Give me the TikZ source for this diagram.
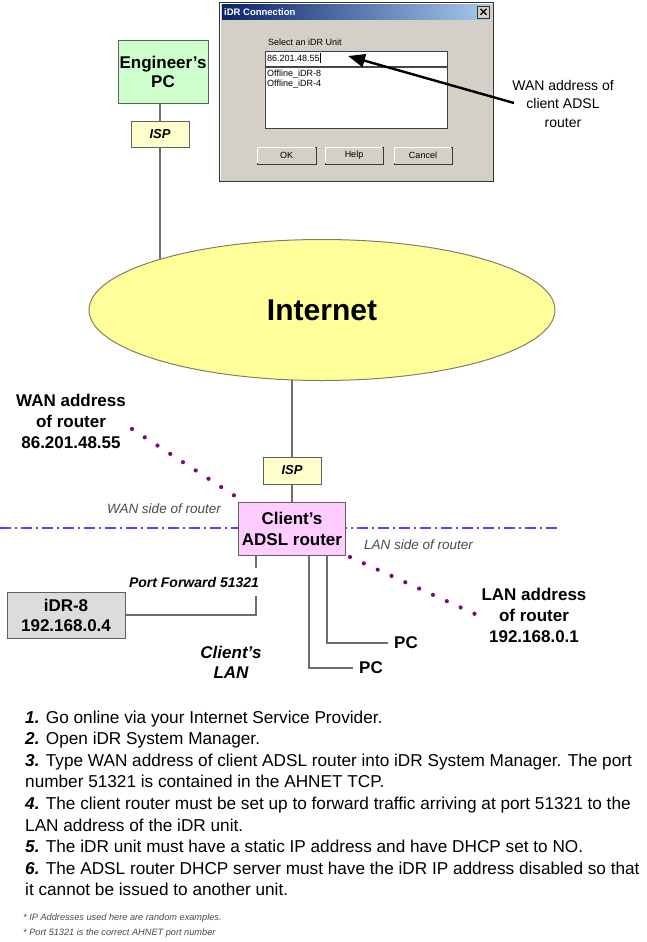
\documentclass[tikz,border=0pt]{standalone}
\usepackage{fontspec}
\setmainfont{Liberation Sans}
\usetikzlibrary{arrows.meta,shapes.geometric,calc}
\pgfdeclarelayer{bg}
\pgfdeclarelayer{paper}
\pgfsetlayers{paper,bg,main}
\definecolor{pcgreen}{HTML}{CCFFCC}
\definecolor{ispyellow}{HTML}{FFFFCC}
\definecolor{inetyellow}{HTML}{FFFF99}
\definecolor{routerpink}{HTML}{FFCCFF}
\definecolor{idrgray}{HTML}{DCDCDC}
\definecolor{boxborder}{HTML}{606060}
\definecolor{linegray}{HTML}{6E6E6E}
\definecolor{ellborder}{HTML}{808060}
\definecolor{dotpurple}{HTML}{7A0A7A}
\definecolor{dashblue}{HTML}{4D4DFF}
\definecolor{textgray}{HTML}{4A4A4A}
\definecolor{dlggray}{HTML}{D4D0C8}
\definecolor{titledark}{HTML}{0A246A}
\definecolor{titlelight}{HTML}{A6CAF0}
\newcommand{\fsz}[2]{\fontsize{#1}{#2}\selectfont}
\begin{document}
\begin{tikzpicture}[x=1pt,y=-1pt,
  conn/.style={draw=linegray,line width=1.2pt},
  netbox/.style={draw=boxborder,line width=0.9pt,align=center,inner sep=0pt},
  dotline/.style={draw=dotpurple,line width=4.2pt,line cap=round,dash pattern=on 0pt off 15.2pt},
  lbl/.style={align=center,inner sep=0pt,font=\bfseries\fsz{17}{21}},
  sidelbl/.style={inner sep=0pt,text=textgray,font=\itshape\fsz{13.5}{16}},
  steptext/.style={anchor=base west,inner sep=0pt,font=\fsz{17.2}{20}},
  foot/.style={anchor=base west,inner sep=0pt,text=textgray,font=\itshape\fsz{9.2}{12}},
  dlgtext/.style={anchor=west,inner sep=0pt,font=\fsz{9}{11}},
  winbtn/.style={draw=gray!45!black,fill=dlggray,line width=0.8pt,minimum height=17pt,inner sep=0pt,font=\fsz{9}{11}}
]
\useasboundingbox (0,0) rectangle (646,942);
\begin{pgfonlayer}{paper}
\fill[white] (0,0) rectangle (646,942);
\end{pgfonlayer}

% ---------------- dialog window ----------------
\draw[fill=dlggray,draw=gray!40!black,line width=0.8pt] (219,2) rectangle (493,181);
\draw[white,line width=0.8pt] (220.5,180) -- (220.5,3.5) -- (492,3.5);
\shade[left color=titledark,right color=titlelight] (222,4.5) rectangle (490,20);
\node[dlgtext,text=white,font=\bfseries\fsz{9.5}{11}] (title) at (224,12.3) {iDR Connection};
\node[draw=gray!40!black,fill=dlggray,minimum width=12pt,minimum height=12pt,inner sep=0pt] (close) at (483.5,11.8) {};
\draw[line width=1.3pt] ($(close.center)+(-3,-3)$) -- ($(close.center)+(3,3)$);
\draw[line width=1.3pt] ($(close.center)+(-3,3)$) -- ($(close.center)+(3,-3)$);
\node[dlgtext] (selectlbl) at (268,42) {Select an iDR Unit};
\node[draw=gray!50!black,fill=white,minimum width=182pt,minimum height=15pt,inner sep=0pt] (edit) at (356,58.5) {};
\node[dlgtext] (edittext) at (267,58.5) {86.201.48.55};
\draw[line width=0.6pt] (edittext.east) ++(0.8,-5) -- ++(0,10);
\node[draw=gray!50!black,fill=white,minimum width=182pt,minimum height=61pt,inner sep=0pt] (list) at (356,97.5) {};
\draw[gray!60!black,line width=1pt] (list.south west) ++(0.5,0) |- ($(list.north east)+(0,0.5)$);
\node[dlgtext] (item1) at (267,74) {Offline\_iDR-8};
\node[dlgtext] (item2) at (267,84) {Offline\_iDR-4};
\node[winbtn,minimum width=59pt] (okb) at (286.5,155.5) {OK};
\node[winbtn,minimum width=58pt] (helpb) at (354,155.5) {Help};
\node[winbtn,minimum width=58pt] (cancelb) at (423,155.5) {Cancel};
\foreach \b in {okb,helpb,cancelb}{
  \draw[white,line width=0.8pt] ($(\b.south west)+(1,-1)$) |- ($(\b.north east)+(-1,1)$);
}

% arrow to the address field
\coordinate (arrS) at (514,103);
\coordinate (arrE) at (348,56);
\draw[line width=2.4pt,-{Triangle[length=17pt,width=13pt]}] (arrS) -- (arrE);
\node[align=center,inner sep=0pt,font=\fsz{14}{18.5}] (wanclient) at (563,103.5) {WAN address of\\client ADSL\\router};

% ---------------- network ----------------
\node[netbox,fill=pcgreen,minimum width=90pt,minimum height=63pt,font=\bfseries\fsz{17}{19}] (pc) at (163,71.5) {Engineer’s\\PC};
\node[netbox,fill=ispyellow,minimum width=58pt,minimum height=26pt,font=\bfseries\itshape\fsz{13}{15}] (isp1) at (160,134) {ISP};
\node[ellipse,draw=ellborder,line width=1pt,fill=inetyellow,minimum width=466pt,minimum height=141pt,inner sep=0pt,font=\bfseries\fsz{30}{30}] (inet) at (322,310) {Internet};
\node[netbox,fill=ispyellow,minimum width=58pt,minimum height=27pt,font=\bfseries\itshape\fsz{13}{15}] (isp2) at (292,470.5) {ISP};
\node[netbox,fill=routerpink,minimum width=107pt,minimum height=53pt,font=\bfseries\fsz{17}{21}] (router) at (292,528.5) {Client’s\\ADSL router};
\node[netbox,fill=idrgray,minimum width=118pt,minimum height=46pt,font=\bfseries\fsz{17}{20}] (idr) at (66,615) {iDR-8\\192.168.0.4};
\node[anchor=west,inner xsep=6pt,inner ysep=0pt,font=\bfseries\fsz{17}{20}] (pcA) at (353,668) {PC};
\node[anchor=west,inner xsep=6pt,inner ysep=0pt,font=\bfseries\fsz{17}{20}] (pcB) at (388,643) {PC};

\coordinate (dashL) at (0,528);
\coordinate (dashR) at (560,528);

\begin{pgfonlayer}{bg}
  \draw[dashblue,line width=1.3pt,dash pattern=on 11pt off 4pt on 2pt off 4pt] (dashL) -- (dashR);
  \draw[conn] (isp1.north) -- (isp1.north |- pc.south);
  \draw[conn] (isp1.south) -- (isp1.south |- inet.center);
  \draw[conn] (isp2.north |- inet.center) -- (isp2.north);
  \draw[conn] (isp2.south) -- (router.north);
  \draw[conn] ([xshift=18pt]router.south west) |- (idr.east);
  \draw[conn] ([xshift=71pt]router.south west) |- (pcA.west);
  \draw[conn] ([xshift=89pt]router.south west) |- (pcB.west);
\end{pgfonlayer}

\node[fill=white,inner xsep=2pt,inner ysep=9pt,font=\bfseries\itshape\fsz{14}{16}] (pfwd) at (194,582) {Port Forward 51321};

\node[sidelbl,anchor=east] (wanside) at (221,509) {WAN side of router};
\node[sidelbl,anchor=west] (lanside) at (364,545) {LAN side of router};

\node[lbl] (wanlbl) at (71,421.5) {WAN address\\of router\\86.201.48.55};
\node[lbl] (lanlbl) at (534,615.5) {LAN address\\of router\\192.168.0.1};
\node[align=center,inner sep=0pt,font=\bfseries\itshape\fsz{17}{20}] (clan) at (231,662) {Client’s\\LAN};

\coordinate (wd1) at (132,429);
\coordinate (wd2) at (235,496);
\draw[dotline] (wd1) -- (wd2);
\coordinate (ld1) at (350,557);
\coordinate (ld2) at (475,614);
\draw[dotline] (ld1) -- (ld2);

% ---------------- instructions ----------------
\node[steptext] (s1) at (25,723) {\textbf{\textit{1.}} Go online via your Internet Service Provider.};
\node[steptext] (s2) at (25,744.6) {\textbf{\textit{2.}} Open iDR System Manager.};
\node[steptext] (s3) at (25,766.2) {\textbf{\textit{3.}} Type WAN address of client ADSL router into iDR System Manager. The port};
\node[steptext] (s4) at (25,787.8) {number 51321 is contained in the AHNET TCP.};
\node[steptext] (s5) at (25,809.4) {\textbf{\textit{4.}} The client router must be set up to forward traffic arriving at port 51321 to the};
\node[steptext] (s6) at (25,831) {LAN address of the iDR unit.};
\node[steptext] (s7) at (25,852.6) {\textbf{\textit{5.}} The iDR unit must have a static IP address and have DHCP set to NO.};
\node[steptext] (s8) at (25,874.2) {\textbf{\textit{6.}} The ADSL router DHCP server must have the iDR IP address disabled so that};
\node[steptext] (s9) at (25,895.8) {it cannot be issued to another unit.};
\node[foot] (f1) at (23,920) {* IP Addresses used here are random examples.};
\node[foot] (f2) at (23,935) {* Port 51321 is the correct AHNET port number};
\end{tikzpicture}
\end{document}
